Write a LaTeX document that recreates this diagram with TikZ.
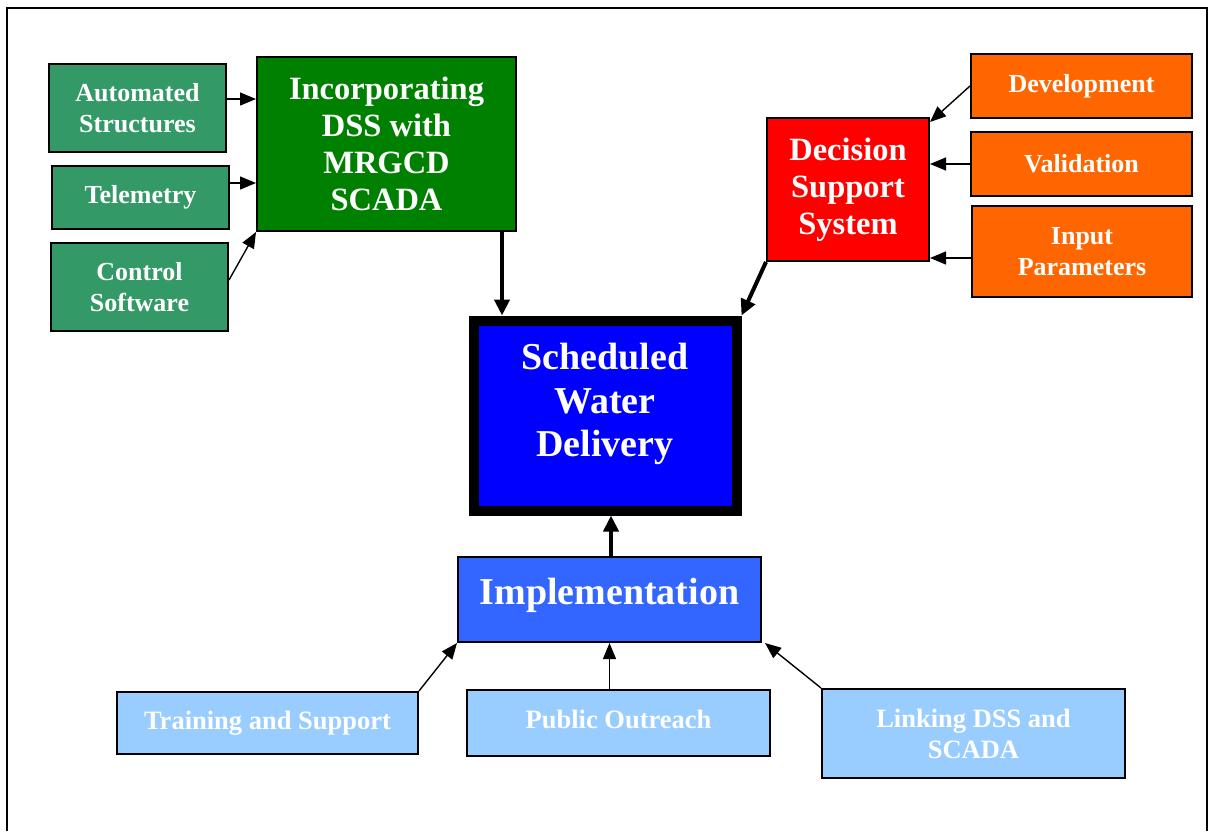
\documentclass[tikz,border=0pt]{standalone}
\usepackage{fontspec}
\setmainfont{Liberation Serif}
\usetikzlibrary{arrows.meta,calc}
\definecolor{sgreen}{HTML}{339966}
\definecolor{dgreen}{HTML}{008000}
\definecolor{dssred}{HTML}{FF0000}
\definecolor{orng}{HTML}{FF6600}
\definecolor{sblue}{HTML}{0000FF}
\definecolor{iblue}{HTML}{3366FF}
\definecolor{lblue}{HTML}{99CCFF}
\begin{document}
\begin{tikzpicture}[x=1pt,y=-1pt,
  box/.style={draw=black,line width=2pt,inner sep=0pt,align=center,text=white},
  smallfont/.style={font=\fontsize{26}{31.5}\selectfont\bfseries},
  bigfont/.style={font=\fontsize{32.5}{37}\selectfont\bfseries},
  hugefont/.style={font=\fontsize{38}{43.5}\selectfont\bfseries},
  lightfont/.style={font=\fontsize{26.5}{31}\selectfont\bfseries},
  lbl/.style={text=white,align=center,inner sep=0pt},
  greenbox/.style={box,smallfont,fill=sgreen,minimum width=177pt},
  orangebox/.style={box,smallfont,fill=orng},
  lightbox/.style={box,lightfont,fill=lblue,minimum width=303pt},
  thin/.style={line width=1.4pt,-{Triangle[length=16pt,width=13pt]}},
  thick/.style={line width=4pt,-{Triangle[length=16pt,width=15pt]}}
]
\useasboundingbox (0,0) rectangle (1210,831);
% frame
\draw[line width=1.5pt] (7,831) -- (7,8) -- (1207,8) -- (1207,831);

% left group
\node[greenbox,minimum height=88pt] (auto) at (137.5,108) {Automated\\Structures};
\node[greenbox,minimum height=63pt] (tele) at (140.5,197.5) {Telemetry};
\node[greenbox,minimum height=88pt] (ctrl) at (139.5,287) {Control\\Software};
\node[box,bigfont,fill=dgreen,minimum width=259pt,minimum height=174pt] (incorp) at (386.5,144) {Incorporating\\DSS with\\MRGCD\\SCADA};

% right group
\node[orangebox,minimum width=221pt,minimum height=64pt] (dev) at (1081.5,86) {Development};
\node[orangebox,minimum width=221pt,minimum height=64pt] (valid) at (1081.5,164) {Validation};
\node[orangebox,minimum width=220pt,minimum height=91pt] (input) at (1082,251.5) {Input\\Parameters};
\node[box,bigfont,fill=dssred,minimum width=162pt,minimum height=143pt] (dss) at (848,189.5) {Decision\\Support\\System};

% centre
\node[draw=black,line width=10pt,fill=sblue,minimum width=262.5pt,minimum height=190pt,inner sep=0pt] (sched) at (605.25,415.5) {};
\node[lbl,hugefont] (schedlbl) at (605,404) {Scheduled\\Water\\Delivery};
\node[box,fill=iblue,minimum width=303pt,minimum height=85pt] (impl) at (609.5,599.5) {};
\node[lbl,hugefont] (impllbl) at (609.5,595.5) {Implementation};

% bottom group
\node[lightbox,minimum width=301pt,minimum height=62pt] (train) at (267.5,723) {Training and Support};
\node[lightbox,minimum height=66pt] (public) at (618.5,723) {};
\node[lbl,lightfont] (publiclbl) at (618.5,719) {Public Outreach};
\node[lightbox,minimum height=89pt] (link) at (973.5,733.5) {Linking DSS and\\SCADA};

% connectors
\coordinate (a1) at ([yshift=9pt]auto.east);
\coordinate (t1) at ([yshift=14.5pt]tele.east);
\coordinate (c1) at ([yshift=7pt]ctrl.east);
\coordinate (i1) at ([xshift=115.5pt]incorp.south);
\coordinate (in1) at ([yshift=-6.5pt]input.west);
\coordinate (im1) at ([xshift=1.5pt]impl.north);

\draw[thin] (a1) -- (a1 -| incorp.west);
\draw[thin] (t1) -- (t1 -| incorp.west);
\draw[thin] (c1) -- (incorp.south west);
\draw[thick] (i1) -- (i1 |- sched.north);

\draw[thin] (dev.west) -- ([yshift=-5pt]dss.north east);
\draw[thin] (valid.west) -- (valid.west -| dss.east);
\draw[thin] (in1) -- (in1 -| dss.east);
\draw[thick] (dss.south west) -- (sched.north east);

\draw[thick] (im1) -- (im1 |- sched.south);
\draw[thin] (train.north east) -- (impl.south west);
\draw[thin] (impl.south |- public.north) -- (impl.south);
\draw[thin] (link.north west) -- ([xshift=3pt]impl.south east);
\end{tikzpicture}
\end{document}
